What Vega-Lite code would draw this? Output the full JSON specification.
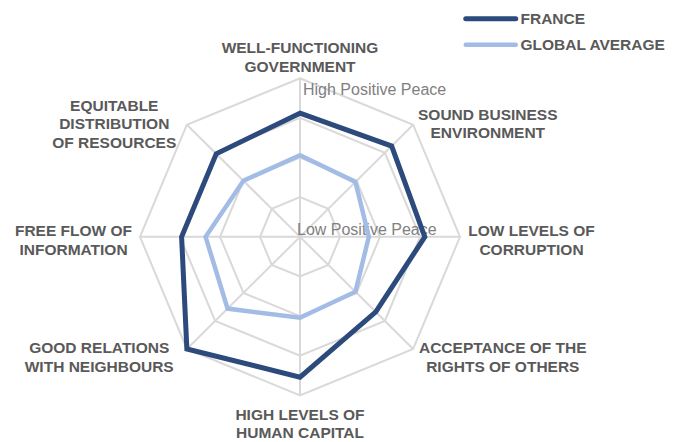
{
  "$schema": "https://vega.github.io/schema/vega-lite/v6.json",
  "width": 687,
  "height": 442,
  "autosize": {"type": "fit", "contains": "padding"},
  "padding": 0,
  "background": "white",
  "config": {
    "view": {"stroke": null},
    "legend": {
      "orient": "none",
      "legendX": 505,
      "legendY": 11,
      "padding": 0,
      "symbolType": "M-9.4,0H0.6",
      "symbolSize": 100,
      "symbolStrokeWidth": 5,
      "labelFont": "Liberation Sans",
      "labelFontWeight": "bold",
      "labelFontSize": 15.5,
      "labelColor": "#595959",
      "labelOffset": 0,
      "rowPadding": 6
    }
  },
  "datasets": {
    "axes": [
      {"k": 0, "label": "WELL-FUNCTIONING\nGOVERNMENT", "levels": [0.25, 0.5, 0.75, 1]},
      {"k": 1, "label": "SOUND BUSINESS\nENVIRONMENT", "levels": [0.25, 0.5, 0.75, 1]},
      {"k": 2, "label": "LOW LEVELS OF\nCORRUPTION", "levels": [0.25, 0.5, 0.75, 1]},
      {"k": 3, "label": "ACCEPTANCE OF THE\nRIGHTS OF OTHERS", "levels": [0.25, 0.5, 0.75, 1]},
      {"k": 4, "label": "HIGH LEVELS OF\nHUMAN CAPITAL", "levels": [0.25, 0.5, 0.75, 1]},
      {"k": 5, "label": "GOOD RELATIONS\nWITH NEIGHBOURS", "levels": [0.25, 0.5, 0.75, 1]},
      {"k": 6, "label": "FREE FLOW OF\nINFORMATION", "levels": [0.25, 0.5, 0.75, 1]},
      {"k": 7, "label": "EQUITABLE\nDISTRIBUTION\nOF RESOURCES", "levels": [0.25, 0.5, 0.75, 1]}
    ],
    "scores": [
      {"series": "FRANCE", "k": 0, "value": 0.78},
      {"series": "FRANCE", "k": 1, "value": 0.81},
      {"series": "FRANCE", "k": 2, "value": 0.78},
      {"series": "FRANCE", "k": 3, "value": 0.67},
      {"series": "FRANCE", "k": 4, "value": 0.885},
      {"series": "FRANCE", "k": 5, "value": 1.0},
      {"series": "FRANCE", "k": 6, "value": 0.74},
      {"series": "FRANCE", "k": 7, "value": 0.74},
      {"series": "GLOBAL AVERAGE", "k": 0, "value": 0.515},
      {"series": "GLOBAL AVERAGE", "k": 1, "value": 0.49},
      {"series": "GLOBAL AVERAGE", "k": 2, "value": 0.43},
      {"series": "GLOBAL AVERAGE", "k": 3, "value": 0.49},
      {"series": "GLOBAL AVERAGE", "k": 4, "value": 0.51},
      {"series": "GLOBAL AVERAGE", "k": 5, "value": 0.64},
      {"series": "GLOBAL AVERAGE", "k": 6, "value": 0.59},
      {"series": "GLOBAL AVERAGE", "k": 7, "value": 0.5}
    ],
    "peace": [
      {"r": 1, "text": "High Positive Peace"},
      {"r": 0, "text": "Low Positive Peace"}
    ]
  },
  "layer": [
    {
      "data": {"name": "axes"},
      "transform": [
        {"flatten": ["levels"], "as": ["level"]},
        {"calculate": "datum.k*PI/4", "as": "a"},
        {"calculate": "datum.level*sin(datum.a)", "as": "x"},
        {"calculate": "datum.level*cos(datum.a)", "as": "y"}
      ],
      "mark": {"type": "line", "interpolate": "linear-closed", "color": "#d9d9d9", "strokeWidth": 2},
      "encoding": {
        "x": {"field": "x", "type": "quantitative", "scale": {"domain": [-1.875, 2.41875], "nice": false, "zero": false}, "axis": null},
        "y": {"field": "y", "type": "quantitative", "scale": {"domain": [-1.26875, 1.49375], "nice": false, "zero": false}, "axis": null},
        "detail": {"field": "level", "type": "nominal"},
        "order": {"field": "k", "type": "quantitative"}
      }
    },
    {
      "data": {"name": "axes"},
      "transform": [
        {"calculate": "datum.k*PI/4", "as": "a"},
        {"calculate": "sin(datum.a)", "as": "x"},
        {"calculate": "cos(datum.a)", "as": "y"}
      ],
      "mark": {"type": "rule", "color": "#d9d9d9", "strokeWidth": 2},
      "encoding": {
        "x": {"field": "x", "type": "quantitative"},
        "y": {"field": "y", "type": "quantitative"},
        "x2": {"datum": 0},
        "y2": {"datum": 0}
      }
    },
    {
      "data": {"name": "axes"},
      "transform": [
        {"calculate": "datum.k*PI/4", "as": "a"},
        {"calculate": "split(datum.label,'\\n')", "as": "lines"},
        {"calculate": "datum.lines.length", "as": "n"},
        {"calculate": "max(length(datum.lines[0]), datum.n>1?length(datum.lines[1]):0, datum.n>2?length(datum.lines[2]):0)", "as": "w"},
        {"calculate": "sin(datum.a)*1.04 + (abs(sin(datum.a))>0.1 ? (sin(datum.a)>0?1:-1)*datum.w*0.0313 : 0) + ((sin(datum.a)<-0.1 && abs(cos(datum.a))>0.1) ? -0.05 : 0)", "as": "x"},
        {"calculate": "cos(datum.a)*1.04 + (abs(sin(datum.a))<0.1 ? (cos(datum.a)>0?1:-1)*datum.n*0.0578 : 0) + (datum.n-1)*0.0578 - 0.024", "as": "y"}
      ],
      "mark": {"type": "text", "align": "center", "baseline": "middle", "lineBreak": "\n", "lineHeight": 18.5, "font": "Liberation Sans", "fontWeight": "bold", "fontSize": 15.5, "color": "#595959"},
      "encoding": {
        "x": {"field": "x", "type": "quantitative"},
        "y": {"field": "y", "type": "quantitative"},
        "text": {"field": "label", "type": "nominal"}
      }
    },
    {
      "data": {"name": "peace"},
      "transform": [
        {"filter": "datum.r == 1"},
        {"calculate": "0", "as": "x"}
      ],
      "mark": {"type": "text", "align": "left", "baseline": "middle", "dx": 3, "dy": 12, "font": "Liberation Sans", "fontSize": 16, "color": "#808080"},
      "encoding": {
        "x": {"field": "x", "type": "quantitative"},
        "y": {"field": "r", "type": "quantitative"},
        "text": {"field": "text", "type": "nominal"}
      }
    },
    {
      "data": {"name": "peace"},
      "transform": [
        {"filter": "datum.r == 0"},
        {"calculate": "0", "as": "x"}
      ],
      "mark": {"type": "text", "align": "left", "baseline": "middle", "dx": -3, "dy": -7, "font": "Liberation Sans", "fontSize": 16, "color": "#808080"},
      "encoding": {
        "x": {"field": "x", "type": "quantitative"},
        "y": {"field": "r", "type": "quantitative"},
        "text": {"field": "text", "type": "nominal"}
      }
    },
    {
      "data": {"name": "scores"},
      "transform": [
        {"calculate": "datum.k*PI/4", "as": "a"},
        {"calculate": "datum.value*sin(datum.a)", "as": "x"},
        {"calculate": "datum.value*cos(datum.a)", "as": "y"}
      ],
      "mark": {"type": "line", "interpolate": "linear-closed", "strokeJoin": "miter"},
      "encoding": {
        "x": {"field": "x", "type": "quantitative"},
        "y": {"field": "y", "type": "quantitative"},
        "order": {"field": "k", "type": "quantitative"},
        "color": {
          "field": "series",
          "type": "nominal",
          "scale": {"domain": ["FRANCE", "GLOBAL AVERAGE"], "range": ["#2c4a7b", "#a2bce6"]},
          "legend": {"title": null, "encode": {"symbols": {"update": {"strokeCap": {"value": "round"}}}}}
        },
        "strokeWidth": {
          "field": "series",
          "type": "ordinal",
          "scale": {"domain": ["FRANCE", "GLOBAL AVERAGE"], "range": [5, 4.5]},
          "legend": null
        }
      }
    }
  ]
}
